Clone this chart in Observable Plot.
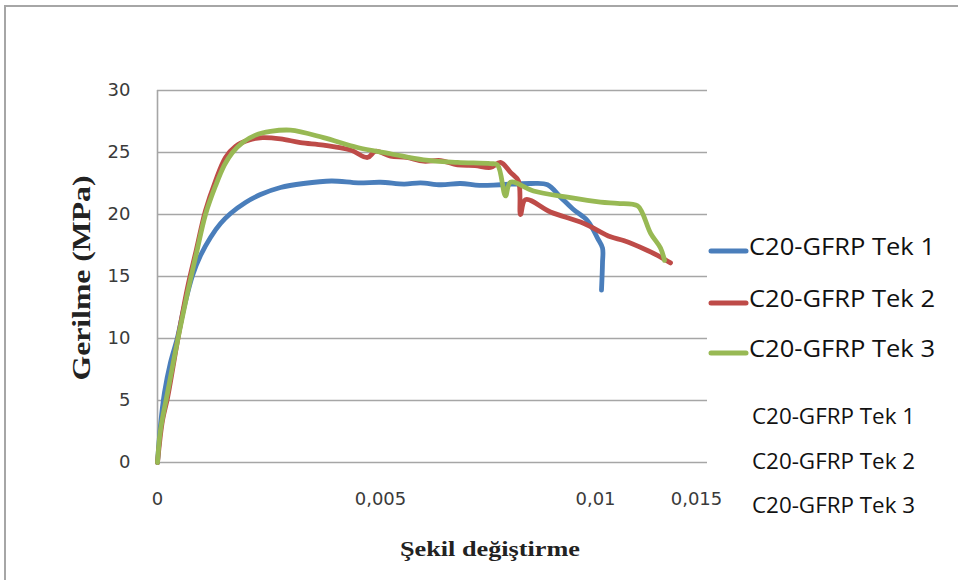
<!DOCTYPE html>
<html>
<head>
<meta charset="utf-8">
<script src="https://cdn.jsdelivr.net/npm/d3@7"></script>
<script src="https://cdn.jsdelivr.net/npm/@observablehq/plot@0.6"></script>
<style>
  html, body { margin: 0; padding: 0; background: #fff; }
  #wrap { position: relative; width: 958px; height: 580px; overflow: hidden; background: #fff; }
  #frame { position: absolute; left: 4px; top: 5px; width: 960px; height: 600px;
           border-top: 2px solid #a6a6a6; border-left: 2px solid #a6a6a6; box-sizing: border-box; }
  #overlay { position: absolute; left: 0; top: 0; pointer-events: none; }
</style>
</head>
<body>
<div id="wrap"><div id="frame"></div></div>
<script>
// ---- data ----
const seriesNames = ["C20-GFRP Tek 1", "C20-GFRP Tek 2", "C20-GFRP Tek 3"];
const seriesColors = ["#4a7ebb", "#be4b48", "#98b954"];

const tek1Strain = [0, 0.000067, 0.000157, 0.000291, 0.000448, 0.000605, 0.000785, 0.000964, 0.001188, 0.001413, 0.001637, 0.001973, 0.002309, 0.002758, 0.003274, 0.0039, 0.0045, 0.005, 0.00555, 0.00593, 0.0064, 0.00686, 0.0073, 0.007791, 0.008488, 0.008884, 0.009186, 0.009488, 0.009814, 0.010099, 0.010347, 0.010347, 0.010297];
const tek1Stress = [0, 2.98, 5.65, 8.06, 10.08, 12.66, 15.08, 16.69, 18.15, 19.27, 20.08, 20.97, 21.61, 22.18, 22.5, 22.7, 22.55, 22.6, 22.45, 22.55, 22.4, 22.5, 22.35, 22.4, 22.5, 22.4, 21.4, 20.4, 19.5, 18.1, 17.3, 16.1, 13.9];

const tek2Strain = [0, 0.000112, 0.000224, 0.000448, 0.000673, 0.000874, 0.001076, 0.0013, 0.001525, 0.001749, 0.00204, 0.002354, 0.002758, 0.003206, 0.003722, 0.004327, 0.004709, 0.004888, 0.005233, 0.0056, 0.006, 0.0064, 0.006791, 0.0072, 0.007558, 0.007791, 0.008023, 0.008209, 0.008256, 0.008372, 0.008953, 0.009721, 0.010743, 0.011386, 0.012574, 0.013069, 0.013713];
const tek2Stress = [0, 3.4, 5.2, 9.8, 14.1, 17.2, 20.3, 22.7, 24.6, 25.5, 26.0, 26.2, 26.1, 25.8, 25.6, 25.2, 24.6, 25.1, 24.7, 24.6, 24.3, 24.35, 24.0, 23.95, 23.8, 24.2, 23.4, 22.7, 20.0, 21.2, 20.2, 19.3, 18.2, 17.9, 17.1, 16.7, 16.1];

const tek3Strain = [0, 0.000067, 0.000224, 0.000448, 0.000673, 0.000874, 0.001076, 0.0013, 0.001502, 0.001682, 0.001906, 0.002197, 0.002534, 0.002982, 0.003722, 0.004484, 0.005233, 0.006, 0.006791, 0.007558, 0.007721, 0.007907, 0.008023, 0.008558, 0.009349, 0.010248, 0.011089, 0.012079, 0.012327, 0.012723, 0.013218, 0.013416];
const tek3Stress = [0, 2.6, 5.6, 9.8, 13.7, 16.9, 20.0, 22.3, 24.0, 25.0, 25.8, 26.4, 26.7, 26.8, 26.2, 25.4, 24.9, 24.4, 24.2, 24.1, 24.0, 21.5, 22.6, 21.9, 21.4, 21.0, 20.9, 20.7, 20.1, 18.5, 17.3, 16.3];

const xTicks = [0, 0.005, 0.01, 0.015];
const yTicks = [0, 5, 10, 15, 20, 25, 30];
const xTitle = "Şekil değiştirme";
const yTitle = "Gerilme  (MPa)";

// ---- build table ----
const strains = [tek1Strain, tek2Strain, tek3Strain];
const stresses = [tek1Stress, tek2Stress, tek3Stress];
const rows = [];
seriesNames.forEach((name, i) => {
  strains[i].forEach((s, j) => rows.push({series: name, strain: s, stress: stresses[i][j]}));
});

const grid = "#a6a6a6";
const chart = Plot.plot({
  width: 958,
  height: 580,
  marginLeft: 157,
  marginRight: 251,
  marginTop: 90,
  marginBottom: 118,
  style: {fontFamily: "DejaVu Sans", fontSize: "18px", color: "#3a3a3a", background: "transparent"},
  x: {
    type: "linear",
    domain: xTicks,
    range: [157, 380, 595, 696],
    ticks: xTicks,
    tickSize: 0,
    tickPadding: 30,
    tickFormat: d => String(d).replace(".", ","),
    label: null
  },
  y: {
    domain: [0, 30],
    ticks: yTicks,
    tickSize: 0,
    tickPadding: 27,
    label: null
  },
  color: {domain: seriesNames, range: seriesColors},
  marks: [
    Plot.ruleY(yTicks, {stroke: grid, strokeWidth: 1.6}),
    Plot.ruleX([0], {stroke: grid, strokeWidth: 1.6}),
    Plot.line(rows, {x: "strain", y: "stress", z: "series", stroke: "series",
      strokeWidth: 4.8, strokeLinejoin: "round", strokeLinecap: "round", curve: "catmull-rom"})
  ]
});
const wrap = document.getElementById("wrap");
chart.style.position = "absolute";
chart.style.left = "0px";
chart.style.top = "0px";
wrap.appendChild(chart);

// ---- overlay: axis titles and legend ----
const NS = "http://www.w3.org/2000/svg";
const ov = document.createElementNS(NS, "svg");
ov.setAttribute("id", "overlay");
ov.setAttribute("width", 958);
ov.setAttribute("height", 580);
wrap.appendChild(ov);
function txt(str, attrs) {
  const t = document.createElementNS(NS, "text");
  for (const k in attrs) t.setAttribute(k, attrs[k]);
  t.textContent = str;
  ov.appendChild(t);
  return t;
}
txt(yTitle, {x: 0, y: 0, transform: "translate(90,278) rotate(-90)", "text-anchor": "middle",
  "font-family": "Liberation Serif", "font-weight": "bold", "font-size": 26, fill: "#222",
  textLength: 205, lengthAdjust: "spacingAndGlyphs"});
txt(xTitle, {x: 490, y: 556, "text-anchor": "middle",
  "font-family": "Liberation Serif", "font-weight": "bold", "font-size": 22, fill: "#222",
  textLength: 180, lengthAdjust: "spacingAndGlyphs"});

const legendBase = [255, 307, 357];
seriesNames.forEach((name, i) => {
  const l = document.createElementNS(NS, "line");
  l.setAttribute("x1", 711); l.setAttribute("x2", 746);
  l.setAttribute("y1", legendBase[i] - 4); l.setAttribute("y2", legendBase[i] - 4);
  l.setAttribute("stroke", seriesColors[i]); l.setAttribute("stroke-width", 5);
  l.setAttribute("stroke-linecap", "round");
  ov.appendChild(l);
  txt(name, {x: 749, y: legendBase[i], "font-family": "Open Sans", "font-size": 24, fill: "#111",
    textLength: 186, lengthAdjust: "spacingAndGlyphs"});
});
const smallBase = [424, 469, 513];
seriesNames.forEach((name, i) => {
  txt(name, {x: 752, y: smallBase[i], "font-family": "Open Sans", "font-size": 21, fill: "#111",
    textLength: 163, lengthAdjust: "spacingAndGlyphs"});
});
</script>
</body>
</html>
